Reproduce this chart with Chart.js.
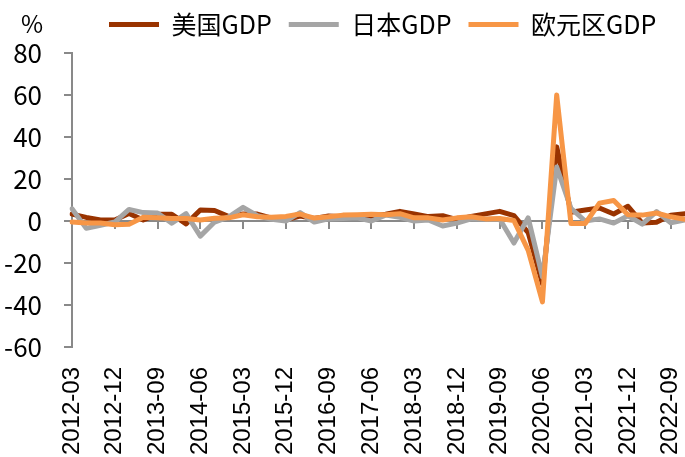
<!DOCTYPE html>
<html>
<head>
<meta charset="utf-8">
<script src="https://cdn.jsdelivr.net/npm/chart.js@4"></script>
<style>
html,body{margin:0;padding:0;background:#fff;}
#wrap{width:685px;height:457px;position:relative;}
</style>
</head>
<body>
<div id="wrap"><canvas id="c" width="685" height="457"></canvas></div>
<script>
const quarters = ["2012-03","2012-06","2012-09","2012-12","2013-03","2013-06","2013-09","2013-12",
  "2014-03","2014-06","2014-09","2014-12","2015-03","2015-06","2015-09","2015-12",
  "2016-03","2016-06","2016-09","2016-12","2017-03","2017-06","2017-09","2017-12",
  "2018-03","2018-06","2018-09","2018-12","2019-03","2019-06","2019-09","2019-12",
  "2020-03","2020-06","2020-09","2020-12","2021-03","2021-06","2021-09","2021-12",
  "2022-03","2022-06","2022-09","2022-12"];
const usGDP = [3.3,1.7,0.5,0.5, 3.6,0.5,3.2,3.2, -1.4,5.2,5.0,2.1, 3.3,3.3,1.3,0.6,
  2.4,1.2,2.4,2.0, 1.7,2.3,3.2,4.6, 3.3,2.1,2.5,0.6, 2.2,3.4,4.6,2.6,
  -5.5,-29.9,35.3,4.2, 5.2,6.2,3.3,7.0, -1.0,-0.6,2.7,3.4];
const japanGDP = [5.8,-3.5,-2.0,-0.5, 5.5,4.0,3.8,-1.0, 3.5,-7.2,-0.5,2.0, 6.5,2.5,0.8,0.0,
  4.0,-0.5,1.0,1.2, 1.5,0.0,2.8,1.8, 0.0,0.5,-2.4,-1.0, 1.0,0.8,1.0,-10.5,
  1.5,-26.6,25.7,6.0, 0.0,1.0,-1.0,2.5, -1.5,4.5,-0.8,0.5];
const euroGDP = [-0.5,-1.0,-1.0,-1.8, -1.5,1.8,1.5,1.2, 1.2,0.5,1.3,1.5, 3.0,2.0,1.8,2.2,
  3.3,1.4,2.0,2.8, 3.0,3.2,3.0,3.5, 1.5,1.5,0.5,1.5, 2.0,1.0,1.2,0.2,
  -14.0,-38.5,60.0,-1.2, -1.2,8.5,9.8,3.0, 2.8,3.8,2.0,0.8];
const seriesNames = ["美国GDP","日本GDP","欧元区GDP"];
const yTicks = [80,60,40,20,0,-20,-40,-60];
const unitLabel = "%";

const colors = ["#993300","#A5A5A5","#F79646"];
const axisGrey = "#898989";
const cjkFont = "'Noto Sans CJK SC', 'Noto Sans', sans-serif";

const unitPlugin = {
  id: 'unitLabel',
  afterLayout(chart) {
    const lg = chart.legend;
    if (lg) { lg.left = 92; lg.right = chart.width + 200; lg.top = -5; }
  },
  afterDraw(chart) {
    const ctx = chart.ctx;
    ctx.save();
    ctx.font = "24px " + cjkFont;
    ctx.fillStyle = "#000";
    ctx.textAlign = "right";
    ctx.textBaseline = "middle";
    ctx.fillText(unitLabel, chart.scales.y.right - 29, 24);
    ctx.restore();
  }
};

function mkDataset(i, data, order) {
  return {
    label: seriesNames[i],
    data: data,
    borderColor: colors[i],
    backgroundColor: colors[i],
    borderWidth: 5,
    borderCapStyle: 'round',
    borderJoinStyle: 'round',
    pointRadius: 0,
    pointHoverRadius: 0,
    tension: 0,
    fill: false,
    order: order,
    xAxisID: 'x',
    yAxisID: 'y'
  };
}

new Chart(document.getElementById('c'), {
  type: 'line',
  data: {
    labels: quarters,
    datasets: [
      mkDataset(0, usGDP, 3),
      mkDataset(1, japanGDP, 2),
      mkDataset(2, euroGDP, 1)
    ]
  },
  plugins: [unitPlugin],
  options: {
    responsive: false,
    animation: false,
    events: [],
    layout: { padding: { top: 1, left: 0, right: 0, bottom: 0 } },
    plugins: {
      tooltip: { enabled: false },
      legend: {
        display: true,
        position: 'top',
        align: 'start',
        labels: {
          usePointStyle: true,
          pointStyle: 'line',
          pointStyleWidth: 50,
          padding: 17,
          color: '#000',
          font: { size: 25, family: cjkFont },
          sort: (a, b) => a.datasetIndex - b.datasetIndex
        }
      }
    },
    scales: {
      x: {
        type: 'category',
        position: 'bottom',
        offset: false,
        grid: { display: false, drawTicks: false },
        border: { display: false },
        ticks: {
          autoSkip: false,
          minRotation: 90,
          maxRotation: 90,
          padding: 20,
          color: '#000',
          font: { size: 24, family: "'Liberation Sans', Arial, sans-serif" },
          callback: function(val, i) { return i % 3 === 0 ? this.getLabelForValue(val) : ''; }
        },
        afterFit: (s) => { s.height = 110; s.paddingLeft = 0; s.paddingRight = 0; }
      },
      x2: {
        type: 'category',
        labels: quarters,
        position: { y: 0 },
        offset: false,
        ticks: { display: false },
        grid: {
          drawOnChartArea: false,
          drawTicks: true,
          tickLength: 7,
          lineWidth: 2,
          color: (ctx) => (ctx.index % 3 === 0 ? axisGrey : 'rgba(0,0,0,0)')
        },
        border: { display: true, color: axisGrey, width: 2 }
      },
      y: {
        type: 'linear',
        position: 'left',
        min: -60,
        max: 80,
        afterBuildTicks: (s) => { s.ticks = yTicks.map(v => ({ value: v })); },
        grid: { drawOnChartArea: false, drawTicks: true, tickLength: 8, color: axisGrey, lineWidth: 2 },
        border: { display: true, color: axisGrey, width: 2 },
        ticks: {
          padding: 22,
          color: '#000',
          font: { size: 26, family: cjkFont }
        },
        afterFit: (s) => { s.width = 72; }
      }
    }
  }
});
</script>
</body>
</html>
